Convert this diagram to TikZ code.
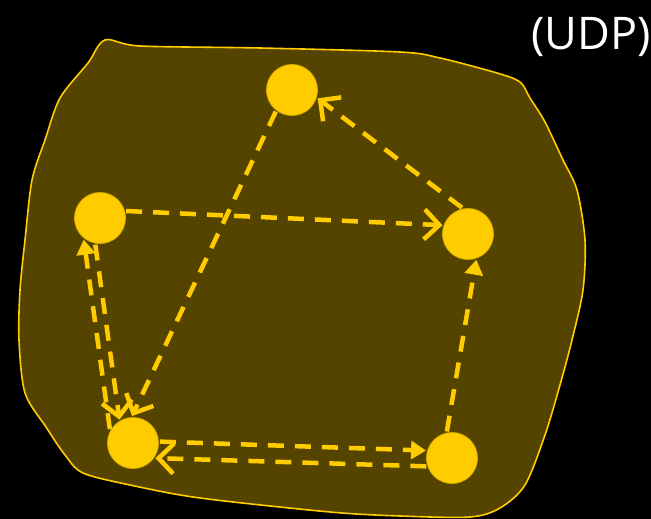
\documentclass[tikz,border=0pt]{standalone}
\usepackage{fontspec}
\setsansfont{Open Sans}
\usetikzlibrary{arrows.meta}

\definecolor{udpyellow}{HTML}{FFCC00}
\definecolor{udpolive}{HTML}{554400}

\tikzstyle{peer}=[circle, fill=udpyellow, draw=udpyellow!85!black, line width=0.8pt, minimum size=51pt, inner sep=0pt, outer sep=1.5pt]
\tikzstyle{link}=[draw=udpyellow, line width=4.5pt, dash pattern=on 16pt off 11pt]
\tikzstyle{barbed}=[link, -{Straight Barb[length=15pt,width=30pt,line width=4.5pt]}]
\tikzstyle{fillarrow}=[link, -{Triangle[length=15pt,width=18pt]}]
\tikzstyle{cloud}=[draw=udpyellow, fill=udpolive, line width=1.6pt]

\begin{document}
\begin{tikzpicture}[x=1pt, y=-1pt]
    \fill[black] (0,0) rectangle (651,519);
    \useasboundingbox (0,0) rectangle (651,519);

    % the network
    \draw[cloud] plot[smooth cycle, tension=0.5] coordinates {
        (105,40) (140,46) (260,48) (400,52) (440,58) (497,73) (520,82)
        (530,98) (545,122) (563,160) (577,190) (585,240) (583,290)
        (572,340) (560,385) (545,435) (525,485) (500,508) (470,517)
        (400,516) (330,512) (200,498) (130,485) (83,473) (65,455)
        (46,427) (25,393) (19,340) (20,290) (25,240) (32,180) (45,140)
        (60,98) (88,63)};

    \node [peer] (peerN)  at (292,90)  {};
    \node [peer] (peerW)  at (100,218) {};
    \node [peer] (peerE)  at (468,234) {};
    \node [peer] (peerSW) at (133,443) {};
    \node [peer] (peerSE) at (452,458) {};

    \draw[barbed] (peerE.103) -- (peerN.342);
    \draw[barbed] (peerW.15) -- (peerE.161);
    \draw[barbed] (peerN.233) -- (peerSW.92);
    \draw[barbed] (peerW.260) -- (peerSW.120);
    \draw[fillarrow] (peerSW.149) -- (peerW.233);
    \draw[fillarrow] (peerSW.3) -- (peerSE.164);
    \draw[barbed] (peerSE.198) -- (peerSW.326);
    \draw[fillarrow] (peerSE.101) -- (peerE.288);

    \node [anchor=base west, text=white, font=\sffamily\fontsize{45}{54}\selectfont] (proto) at (528,50) {(UDP)};
\end{tikzpicture}
\end{document}
